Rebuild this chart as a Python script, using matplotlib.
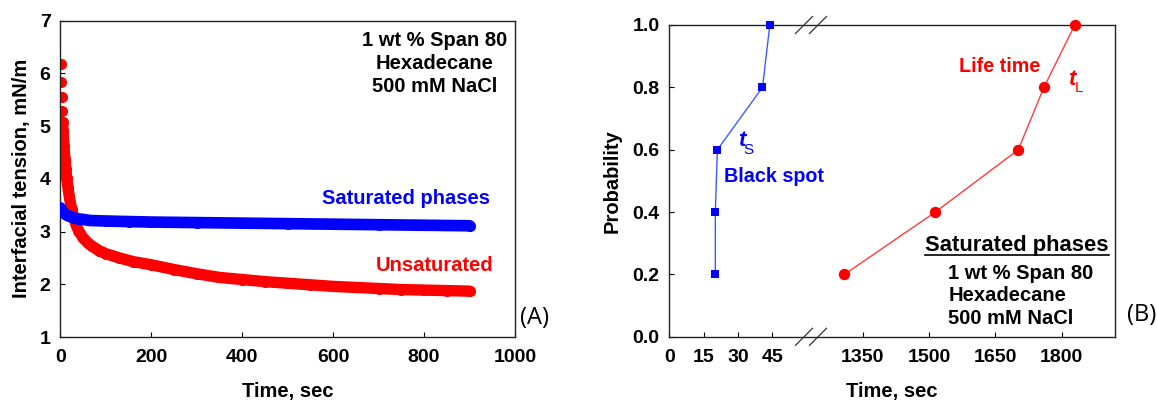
import numpy as np
import matplotlib
matplotlib.use("Agg")
import matplotlib.pyplot as plt

plt.rcParams['font.family'] = ['Liberation Sans', 'DejaVu Sans']

# ---------------- data (panel A) ----------------
red_t = [1, 2, 3, 4, 5, 6, 7, 8, 9, 10, 12, 14, 17, 20, 25, 30, 35, 40, 50, 60, 70, 85,
         100, 130, 160, 200, 250, 300, 350, 400, 450, 500, 550, 600, 650, 700, 750, 800, 850, 900]
red_y = [6.18, 5.84, 5.55, 5.29, 5.07, 4.90, 4.76, 4.62, 4.50, 4.38, 4.18, 4.02, 3.82, 3.65,
         3.42, 3.25, 3.12, 3.02, 2.88, 2.79, 2.72, 2.64, 2.58, 2.50, 2.43, 2.37, 2.28, 2.20,
         2.13, 2.09, 2.05, 2.02, 1.99, 1.96, 1.94, 1.92, 1.90, 1.89, 1.88, 1.87]
blue_t = [0, 2, 5, 10, 15, 20, 30, 40, 50, 65, 100, 150, 200, 300, 400, 500, 600, 700, 800, 900]
blue_y = [3.45, 3.42, 3.38, 3.34, 3.31, 3.29, 3.26, 3.24, 3.23, 3.21, 3.20, 3.19, 3.18, 3.17,
          3.16, 3.15, 3.14, 3.13, 3.12, 3.11]

# ---------------- data (panel B) ----------------
spot_t = [20.1, 20.1, 21.0, 40.7, 43.9]
spot_p = [0.2, 0.4, 0.6, 0.8, 1.0]
life_t = [1308, 1514, 1702, 1760, 1830]
life_p = [0.2, 0.4, 0.6, 0.8, 1.0]
b_xticks = [0, 15, 30, 45, 1350, 1500, 1650, 1800]
b_yticks = [0.0, 0.2, 0.4, 0.6, 0.8, 1.0]
a_xticks = [0, 200, 400, 600, 800, 1000]
a_yticks = [1, 2, 3, 4, 5, 6, 7]

W, H = 1157, 403
fig = plt.figure(figsize=(W / 100, H / 100), dpi=100)

tickfont = dict(fontsize=14, fontweight='bold')
LBL = 14.5
ANN = 14.5

# ================= Panel A =================
axA = fig.add_axes([60.3 / W, 1 - 337 / H, 454.7 / W, 316.3 / H])
axA.plot(red_t[4:], red_y[4:], color='#ff0000', lw=8.2, solid_capstyle='round', zorder=2)
axA.plot(red_t, red_y, 'o', color='#ff0000', ms=8.0, mew=0, zorder=2)
axA.plot(blue_t, blue_y, color='#0000ff', lw=8.4, solid_capstyle='round', zorder=3)
axA.plot(blue_t, blue_y, 'o', color='#0000ff', ms=8.0, mew=0, zorder=3)
axA.set_xlim(0, 1000)
axA.set_ylim(1, 7)
axA.set_xticks(a_xticks)
axA.set_yticks(a_yticks)
axA.set_xticklabels([str(v) for v in a_xticks], **tickfont)
axA.set_yticklabels([str(v) for v in a_yticks], **tickfont)
axA.tick_params(direction='in', length=3.5, width=0.8, pad=8.5, axis='x')
axA.tick_params(direction='in', length=3.5, width=0.8, pad=7, axis='y')
axA.set_xlabel('Time, sec', fontsize=LBL, fontweight='bold', labelpad=12)
axA.set_ylabel('Interfacial tension, mN/m', fontsize=LBL, fontweight='bold', labelpad=6)
for s in axA.spines.values():
    s.set_linewidth(1.0)
    s.set_color('#222222')
axA.text(823, 6.19, '1 wt % Span 80\nHexadecane\n500 mM NaCl', ha='center', va='center',
         fontsize=ANN, fontweight='bold', linespacing=1.28)
axA.text(761, 3.63, 'Saturated phases', ha='center', va='center', fontsize=ANN,
         fontweight='bold', color='#0000ff')
axA.text(822, 2.36, 'Unsaturated', ha='center', va='center', fontsize=ANN,
         fontweight='bold', color='#ff0000')

# ================= Panel B (broken axis) =================
K1, K2 = 2.289, 0.4413
B1, B2 = 62.0, 1233.0
U1 = B1 * K1


def fwd(x):
    x = np.asarray(x, dtype=float)
    return np.where(x <= B1, x * K1,
                    np.where(x >= B2, U1 + (x - B2) * K2, U1))


def inv(u):
    u = np.asarray(u, dtype=float)
    return np.where(u <= U1, u / K1, B2 + (u - U1) / K2)


axB = fig.add_axes([669.3 / W, 1 - 336.8 / H, 445.7 / W, 311.8 / H])
axB.set_xscale('function', functions=(fwd, inv))
axB.plot(spot_t, spot_p, '-', color='#3a5cff', lw=1.0, zorder=2)
axB.plot(spot_t, spot_p, 's', color='#0000ff', ms=6.3, mew=0, zorder=3, clip_on=False)
axB.plot(life_t, life_p, '-', color='#ff3b3b', lw=1.0, zorder=2)
axB.plot(life_t, life_p, 'o', color='#ff0000', ms=8.2, mew=0, zorder=3, clip_on=False)
axB.set_xlim(0, 1921)
axB.set_ylim(0, 1.0)
axB.set_xticks(b_xticks)
axB.set_xticks([], minor=True)
axB.set_yticks(b_yticks)
axB.set_xticklabels([str(v) for v in b_xticks], **tickfont)
axB.set_yticklabels(['%.1f' % v for v in b_yticks], **tickfont)
axB.tick_params(direction='in', length=3.5, width=0.8, pad=8.5, axis='x')
axB.tick_params(direction='in', length=3.5, width=0.8, pad=7, axis='y')
axB.tick_params(which='minor', length=0)
axB.set_xlabel('Time, sec', fontsize=LBL, fontweight='bold', labelpad=12)
axB.set_ylabel('Probability', fontsize=LBL, fontweight='bold', labelpad=8)
for s in axB.spines.values():
    s.set_linewidth(1.0)
    s.set_color('#222222')

# break marks
aw, ah = 445.7, 311.8
for cx in (804.0, 818.0):
    fx = (cx - 669.3) / aw
    dx, dy = 8.5 / aw, 8.5 / ah
    for yb in (0.0, 1.0):
        axB.plot([fx - dx, fx + dx], [yb - dy, yb + dy], color='#333333', lw=0.9,
                 transform=axB.transAxes, clip_on=False, zorder=5)

axB.text(0.163, 0.628, 't', transform=axB.transAxes, ha='center', va='center',
         fontsize=16, fontweight='bold', style='italic', color='#0000ff')
axB.text(0.178, 0.600, 'S', transform=axB.transAxes, ha='center', va='center',
         fontsize=11, color='#0000ff')
axB.text(0.122, 0.513, 'Black spot', transform=axB.transAxes, ha='left', va='center',
         fontsize=14.2, fontweight='bold', color='#0000ff')
axB.text(0.742, 0.866, 'Life time', transform=axB.transAxes, ha='center', va='center',
         fontsize=14.2, fontweight='bold', color='#ff0000')
axB.text(0.9035, 0.825, 't', transform=axB.transAxes, ha='center', va='center',
         fontsize=16, fontweight='bold', style='italic', color='#ff0000')
axB.text(0.919, 0.797, 'L', transform=axB.transAxes, ha='center', va='center',
         fontsize=11, color='#ff0000')
axB.text(0.779, 0.294, 'Saturated phases', transform=axB.transAxes, ha='center', va='center',
         fontsize=15.8, fontweight='bold')
axB.plot([0.5726, 0.986], [0.262, 0.262], color='black', lw=1.2, transform=axB.transAxes)
axB.text(0.626, 0.131, '1 wt % Span 80\nHexadecane\n500 mM NaCl', transform=axB.transAxes,
         ha='left', va='center', fontsize=ANN, fontweight='bold', linespacing=1.22)

fig.text(534.8 / W, 1 - 318 / H, '(A)', ha='center', va='center', fontsize=17,
         family=['Open Sans', 'DejaVu Sans'])
fig.text(1142 / W, 1 - 315 / H, '(B)', ha='center', va='center', fontsize=17,
         family=['Open Sans', 'DejaVu Sans'])

fig.savefig('out.png', dpi=100)
